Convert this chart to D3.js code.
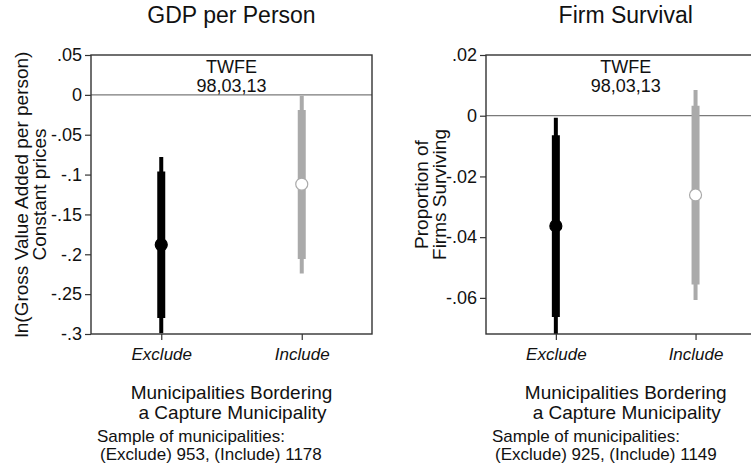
<!DOCTYPE html>
<html>
<head>
<meta charset="utf-8">
<script src="https://cdn.jsdelivr.net/npm/d3@7"></script>
<style>
  html, body { margin: 0; padding: 0; background: #fff; }
  svg { display: block; font-family: "Liberation Sans", Arial, Helvetica, sans-serif; }
</style>
</head>
<body>
<svg id="chart" width="751" height="465"></svg>
<script>
// Categories on the x axis
const categories = ["Exclude", "Include"];

// GDP per person: point estimates and confidence bands (thick = 90%, thin = 95%)
const gdpEstimate = [-0.188, -0.112];
const gdpThickLow = [-0.280, -0.206];
const gdpThickHigh = [-0.096, -0.019];
const gdpThinLow = [-0.299, -0.224];
const gdpThinHigh = [-0.078, -0.001];
const gdpTicks = [0.05, 0, -0.05, -0.1, -0.15, -0.2, -0.25, -0.3];
const gdpTickLabels = [".05", "0", "-.05", "-.1", "-.15", "-.2", "-.25", "-.3"];
const gdpSample = [953, 1178];

// Firm survival: point estimates and confidence bands
const survEstimate = [-0.0363, -0.0261];
const survThickLow = [-0.0663, -0.0556];
const survThickHigh = [-0.0064, 0.0033];
const survThinLow = [-0.0719, -0.0607];
const survThinHigh = [-0.0007, 0.0085];
const survTicks = [0.02, 0, -0.02, -0.04, -0.06];
const survTickLabels = [".02", "0", "-.02", "-.04", "-.06"];
const survSample = [925, 1149];

const svg = d3.select("#chart");
const seriesColor = ["#000000", "#aaaaaa"];
const pointFill = ["#000000", "#ffffff"];

function drawPanel(cfg) {
  const g = svg.append("g");
  const x = d3.scaleLinear().domain([0.5, 2.5]).range([cfg.left, cfg.right]);
  const y = d3.scaleLinear().domain(cfg.domain).range([cfg.bottom, cfg.top]);
  const mid = (cfg.left + cfg.right) / 2;

  // Title
  g.append("text").attr("x", mid).attr("y", 23).attr("text-anchor", "middle")
    .attr("font-size", 23).attr("fill", "#111").text(cfg.title);

  const clipId = "clip-" + cfg.id;
  g.append("clipPath").attr("id", clipId).append("rect")
    .attr("x", cfg.left).attr("y", cfg.top)
    .attr("width", cfg.right - cfg.left).attr("height", cfg.bottom - cfg.top);

  const plot = g.append("g").attr("clip-path", `url(#${clipId})`);

  // Zero reference line
  plot.append("line").attr("x1", cfg.left).attr("x2", cfg.right)
    .attr("y1", y(0)).attr("y2", y(0)).attr("stroke", "#7a7a7a").attr("stroke-width", 1.2);

  const idx = d3.range(categories.length);
  // Thin (95%) intervals
  plot.selectAll("line.thin").data(idx).join("line").attr("class", "thin")
    .attr("x1", i => x(i + 1)).attr("x2", i => x(i + 1))
    .attr("y1", i => y(cfg.thinLow[i])).attr("y2", i => y(cfg.thinHigh[i]))
    .attr("stroke", i => seriesColor[i]).attr("stroke-width", 4);
  // Thick (90%) intervals
  plot.selectAll("line.thick").data(idx).join("line").attr("class", "thick")
    .attr("x1", i => x(i + 1)).attr("x2", i => x(i + 1))
    .attr("y1", i => y(cfg.thickLow[i])).attr("y2", i => y(cfg.thickHigh[i]))
    .attr("stroke", i => seriesColor[i]).attr("stroke-width", 8);
  // Point estimates
  plot.selectAll("circle").data(idx).join("circle")
    .attr("cx", i => x(i + 1)).attr("cy", i => y(cfg.estimate[i])).attr("r", 6)
    .attr("fill", i => pointFill[i]).attr("stroke", i => seriesColor[i]).attr("stroke-width", 1.2);

  // Plot region border
  g.append("rect").attr("x", cfg.left).attr("y", cfg.top)
    .attr("width", cfg.right - cfg.left).attr("height", cfg.bottom - cfg.top)
    .attr("fill", "none").attr("stroke", "#333").attr("stroke-width", 1.4);

  // Y axis
  const yAxis = d3.axisLeft(y).tickValues(cfg.ticks)
    .tickFormat((d, i) => cfg.tickLabels[i]).tickSize(6).tickPadding(3);
  const ya = g.append("g").attr("transform", `translate(${cfg.left},0)`).call(yAxis);
  ya.select(".domain").remove();
  ya.selectAll(".tick line").attr("stroke", "#333").attr("stroke-width", 1.2);
  ya.selectAll(".tick text").attr("font-size", 18).attr("fill", "#111")
    .attr("font-family", "Liberation Sans, Arial, sans-serif");

  // X axis
  const xAxis = d3.axisBottom(x).tickValues([1, 2])
    .tickFormat(d => categories[d - 1]).tickSize(6).tickPadding(8);
  const xa = g.append("g").attr("transform", `translate(0,${cfg.bottom})`).call(xAxis);
  xa.select(".domain").remove();
  xa.selectAll(".tick line").attr("stroke", "#333").attr("stroke-width", 1.2);
  xa.selectAll(".tick text").attr("font-size", 17).attr("font-style", "italic")
    .attr("fill", "#111").attr("font-family", "Liberation Sans, Arial, sans-serif");

  // Annotation inside the plot
  const ann = g.append("text").attr("text-anchor", "middle").attr("font-size", 18).attr("fill", "#111");
  ann.append("tspan").attr("x", mid).attr("y", 73).text("TWFE");
  ann.append("tspan").attr("x", mid).attr("y", 92).text("98,03,13");

  // Y axis title (two lines)
  cfg.yTitle.forEach((line, k) => {
    g.append("text")
      .attr("transform", `translate(${cfg.yTitleX[k]},${(cfg.top + cfg.bottom) / 2}) rotate(-90)`)
      .attr("text-anchor", "middle").attr("font-size", 19).attr("fill", "#111").text(line);
  });

  // X axis title
  const xt = g.append("text").attr("text-anchor", "middle").attr("font-size", 19).attr("fill", "#111");
  xt.append("tspan").attr("x", mid).attr("y", 399).text("Municipalities Bordering");
  xt.append("tspan").attr("x", mid + 1).attr("y", 419).text("a Capture Municipality");

  // Note with sample sizes
  const note = g.append("text").attr("font-size", 17).attr("fill", "#111");
  note.append("tspan").attr("x", cfg.noteX).attr("y", 442).text("Sample of municipalities:");
  note.append("tspan").attr("x", cfg.noteX + 3).attr("y", 460)
    .text(`(${categories[0]}) ${cfg.sample[0]}, (${categories[1]}) ${cfg.sample[1]}`);
}

drawPanel({
  id: "gdp", title: "GDP per Person",
  left: 91, right: 372, top: 55, bottom: 334, domain: [-0.3, 0.05],
  estimate: gdpEstimate, thickLow: gdpThickLow, thickHigh: gdpThickHigh,
  thinLow: gdpThinLow, thinHigh: gdpThinHigh,
  ticks: gdpTicks, tickLabels: gdpTickLabels, sample: gdpSample,
  yTitle: ["ln(Gross Value Added per person)", "Constant prices"], yTitleX: [28, 46],
  noteX: 97
});

drawPanel({
  id: "surv", title: "Firm Survival",
  left: 486, right: 765.4, top: 55, bottom: 334, domain: [-0.0719, 0.02],
  estimate: survEstimate, thickLow: survThickLow, thickHigh: survThickHigh,
  thinLow: survThinLow, thinHigh: survThinHigh,
  ticks: survTicks, tickLabels: survTickLabels, sample: survSample,
  yTitle: ["Proportion of", "Firms Surviving"], yTitleX: [428, 446],
  noteX: 492
});
</script>
</body>
</html>
